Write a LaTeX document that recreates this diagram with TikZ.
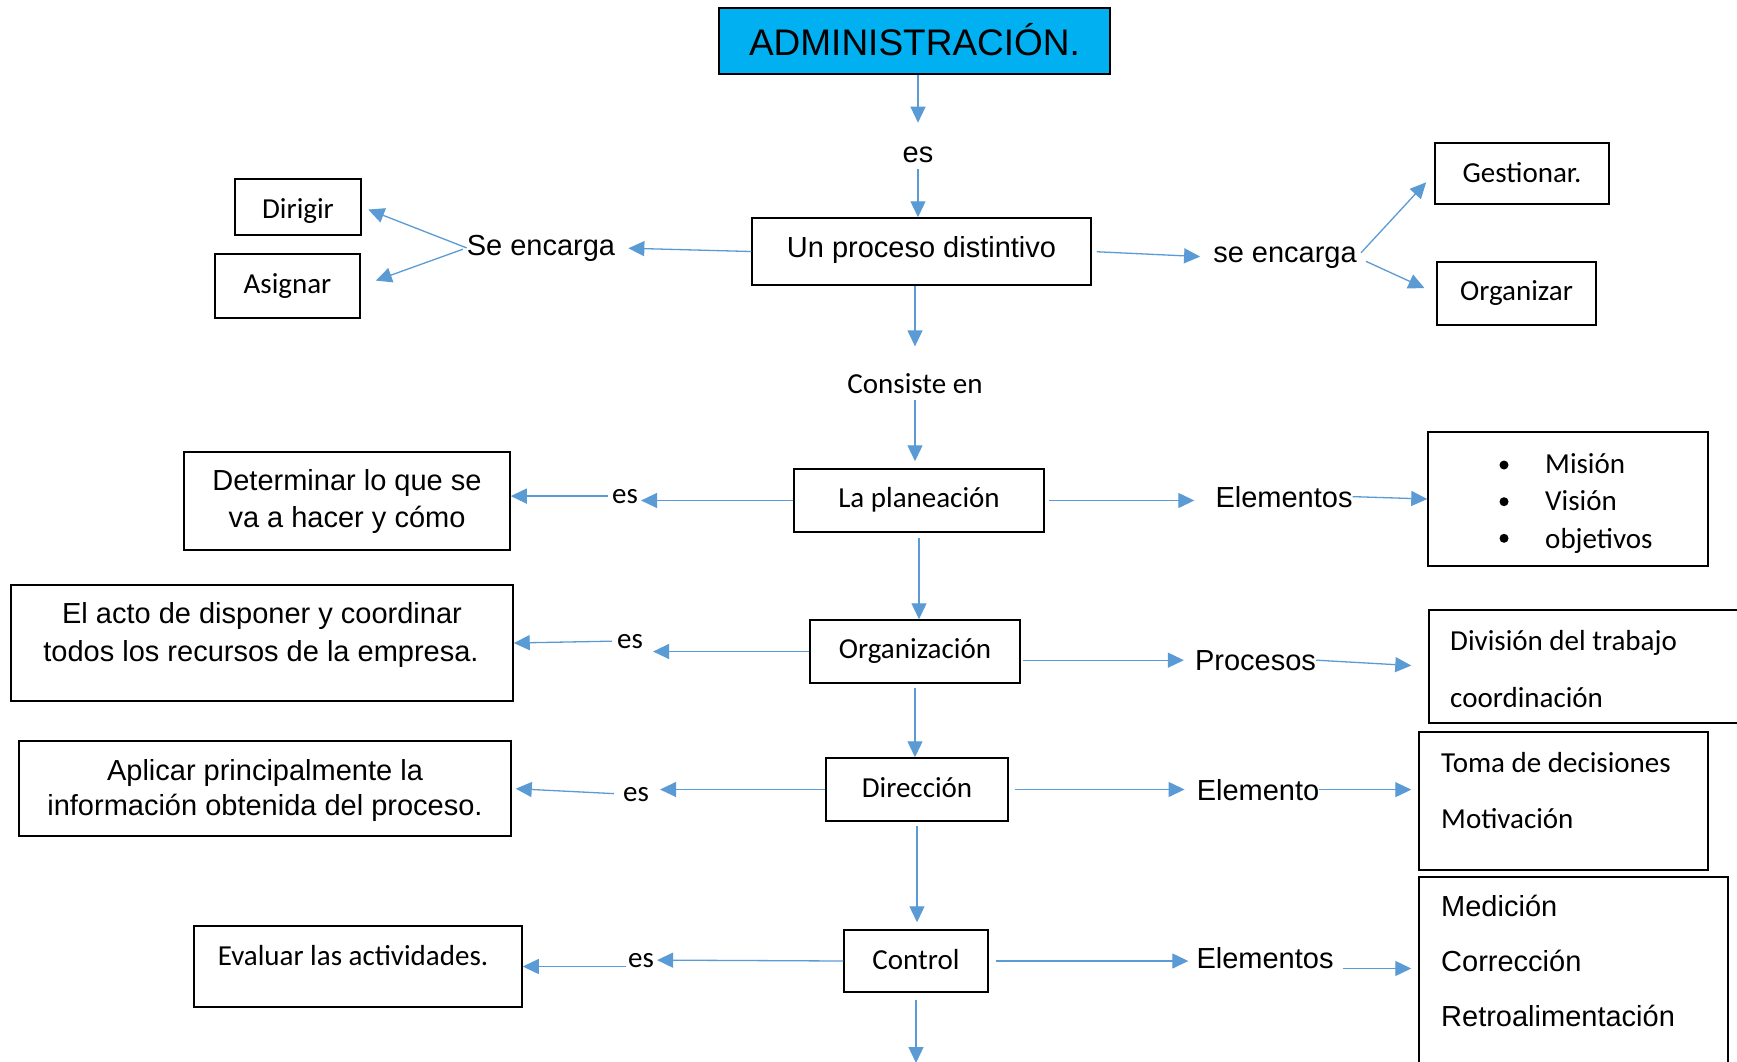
\documentclass[tikz,border=0pt]{standalone}
\usepackage{fontspec}
\setmainfont{Liberation Sans}
\newfontfamily\calfont{Carlito}
\usetikzlibrary{arrows.meta}
\definecolor{lblue}{HTML}{5B9BD5}
\definecolor{cyanbox}{HTML}{00B0F0}
\begin{document}
\begin{tikzpicture}[x=1pt,y=-1pt,
  box/.style={draw=black, line width=1.5pt, inner sep=0pt},
  A/.style={font=\fontsize{29pt}{35pt}\selectfont},
  C/.style={font=\calfont\fontsize{29pt}{35pt}\selectfont},
  txt/.style={inner sep=0pt, anchor=base},
  ltxt/.style={inner sep=0pt, anchor=base west},
  arr/.style={draw=lblue, line width=1.3pt, -{Triangle[width=15pt,length=16pt]}},
  bl/.style 2 args={text height=#1, text depth=#2}
]
\useasboundingbox (0,0) rectangle (1737,1061);
\fill[white] (0,0) rectangle (1737,1061);
\clip (0,0) rectangle (1737,1061);

% boxes with text
\node[box, fill=cyanbox, minimum width=391pt, minimum height=66pt, font=\fontsize{37pt}{42pt}\selectfont, bl={28pt}{0pt}] (adm) at (914.5,41) {ADMINISTRACIÓN.};
\node[box, A, minimum width=339pt, minimum height=67pt, bl={20pt}{9pt}] (proc) at (921.5,251.5) {Un proceso distintivo};
\node[box, C, minimum width=126pt, minimum height=56pt, bl={22pt}{0pt}] (dir) at (298,207) {Dirigir};
\node[box, C, minimum width=145pt, minimum height=64pt, bl={20pt}{6pt}] (asig) at (287.5,286) {Asignar};
\node[box, C, minimum width=174pt, minimum height=61pt, bl={20pt}{3pt}] (gest) at (1522,173.5) {Gestionar.};
\node[box, C, minimum width=159pt, minimum height=63pt, bl={20pt}{7pt}] (org) at (1516.5,293.5) {Organizar};
\node[box, C, minimum width=250pt, minimum height=63pt, bl={20pt}{7pt}] (plan) at (919,500.5) {La planeación};
\node[box, C, minimum width=210pt, minimum height=63pt, bl={20pt}{7pt}] (orgz) at (915,651.5) {Organización};
\node[box, C, minimum width=182pt, minimum height=63pt, bl={20pt}{5pt}] (direc) at (917,789.5) {Dirección};
\node[box, C, minimum width=144pt, minimum height=62pt, bl={20pt}{4pt}] (ctrl) at (916,961) {Control};

% boxes whose text is placed separately
\node[box, minimum width=326pt, minimum height=98pt] (det) at (347,501) {};
\node[box, minimum width=502pt, minimum height=116pt] (acto) at (262,643) {};
\node[box, minimum width=492pt, minimum height=95pt] (apl) at (265,788.5) {};
\node[box, minimum width=328pt, minimum height=81pt] (eval) at (358,966.5) {};
\node[box, minimum width=280pt, minimum height=134pt] (mis) at (1568,499) {};
\node[box, minimum width=331pt, minimum height=113pt] (divi) at (1594.5,666.5) {};
\node[box, minimum width=289pt, minimum height=138pt] (toma) at (1563.5,801) {};
\node[box, minimum width=309pt, minimum height=203pt] (med) at (1573.5,978.5) {};

% texts inside boxes
\node[txt, A] (det1) at (347,490) {Determinar lo que se};
\node[txt, A] (det2) at (347,527) {va a hacer y cómo};
\node[txt, A] (acto1) at (262,623) {El acto de disponer y coordinar};
\node[txt, A] (acto2) at (261,661) {todos los recursos de la empresa.};
\node[txt, A] (apl1) at (265,780) {Aplicar principalmente la};
\node[txt, A] (apl2) at (265,815) {información obtenida del proceso.};
\node[txt, C] (evalt) at (353,965) {Evaluar las actividades.};

\fill (1504,465) circle (4.5pt);
\fill (1504,501.7) circle (4.5pt);
\fill (1504,538.3) circle (4.5pt);
\node[ltxt, C] (mis1) at (1545,473) {Misión};
\node[ltxt, C] (mis2) at (1545,510) {Visión};
\node[ltxt, C] (mis3) at (1545,548) {objetivos};
\node[ltxt, C] (div1) at (1450,650) {División del trabajo};
\node[ltxt, C] (div2) at (1450,707) {coordinación};
\node[ltxt, C] (toma1) at (1441,772) {Toma de decisiones};
\node[ltxt, C] (toma2) at (1441,828) {Motivación};
\node[ltxt, A] (med1) at (1441,916) {Medición};
\node[ltxt, A] (med2) at (1441,971) {Corrección};
\node[ltxt, A] (med3) at (1441,1026) {Retroalimentación};

% free text labels
\node[txt, A] (es0) at (918,162) {es};
\node[txt, A] (seL) at (541,255) {Se encarga};
\node[txt, A] (seR) at (1285,262) {se encarga};
\node[txt, C] (cons) at (915,393) {Consiste en};
\node[txt, C] (es1) at (625,503) {es};
\node[txt, A] (elem1) at (1284,507) {Elementos};
\node[txt, C] (es2) at (630,648) {es};
\node[txt, A] (proc2) at (1255.5,670) {Procesos};
\node[txt, C] (es3) at (636,801) {es};
\node[txt, A] (elem2) at (1258,800) {Elemento};
\node[txt, C] (es4) at (641,967) {es};
\node[txt, A] (elem3) at (1265,968) {Elementos};
\coordinate (endc) at (916,1063);

% connectors
\draw[arr, shorten >=23.5pt] (es0.north |- adm.south) -- (es0.north);
\draw[arr, shorten <=7pt] (es0.south) -- (es0.south |- proc.north);
\draw[arr, shorten >=13pt] (proc.west) -- (seL.east);
\draw[arr, shorten >=7pt] (seL.west) -- (dir.east);
\draw[arr, shorten <=4pt, shorten >=16pt] (seL.west) -- (asig.east);
\draw[arr, shorten <=5pt, shorten >=13pt] (proc.east) -- (seR.west);
\draw[arr, shorten <=6pt, shorten >=12pt] (seR.east) -- (gest.west);
\draw[arr, shorten <=10pt, shorten >=13pt] (seR.east) -- (org.west);
\draw[arr, shorten >=26.5pt] (cons.north |- proc.south) -- (cons.north);
\draw[arr, shorten <=7pt, shorten >=7pt] (cons.south) -- (cons.south |- plan.north);
\draw[arr, shorten >=3pt] (plan.west) -- (plan.west -| es1.east);
\draw[arr, shorten <=4pt] (es1.west) -- (es1.west -| det.east);
\draw[arr, shorten <=4pt, shorten >=21pt] (plan.east) -- (plan.east -| elem1.west);
\draw[arr] (elem1.east) -- (mis.west);
\draw[arr, shorten <=5pt] (plan.south) -- (plan.south |- orgz.north);
\draw[arr, shorten >=10pt] (orgz.west) -- (orgz.west -| es2.east);
\draw[arr, shorten <=5pt] (es2.west) -- (acto.east);
\draw[arr, shorten <=2pt, shorten >=11pt] (proc2.west -| orgz.east) -- (proc2.west);
\draw[arr, shorten >=17pt] (proc2.east) -- (divi.west);
\draw[arr, shorten <=4pt] (orgz.south) -- (orgz.south |- direc.north);
\draw[arr, shorten >=11pt] (direc.west) -- (direc.west -| es3.east);
\draw[arr, shorten <=9pt, shorten >=4pt] (es3.west) -- (apl.east);
\draw[arr, shorten <=6pt, shorten >=12pt] (direc.east) -- (direc.east -| elem2.west);
\draw[arr, shorten >=7pt] (elem2.east) -- (elem2.east -| toma.west);
\draw[arr, shorten <=4pt, shorten >=7pt] (direc.south) -- (direc.south |- ctrl.north);
\draw[arr, shorten >=3pt] (ctrl.west) -- (es4.east);
\draw[arr, shorten <=2pt] (es4.west |- eval.east) -- (eval.east);
\draw[arr, shorten <=7pt, shorten >=8pt] (ctrl.east) -- (ctrl.east -| elem3.west);
\draw[arr, shorten <=9pt, shorten >=7pt] (elem3.south east) -- (elem3.south east -| med.west);
\draw[arr, shorten <=7pt] (ctrl.south) -- (endc);
\end{tikzpicture}
\end{document}
